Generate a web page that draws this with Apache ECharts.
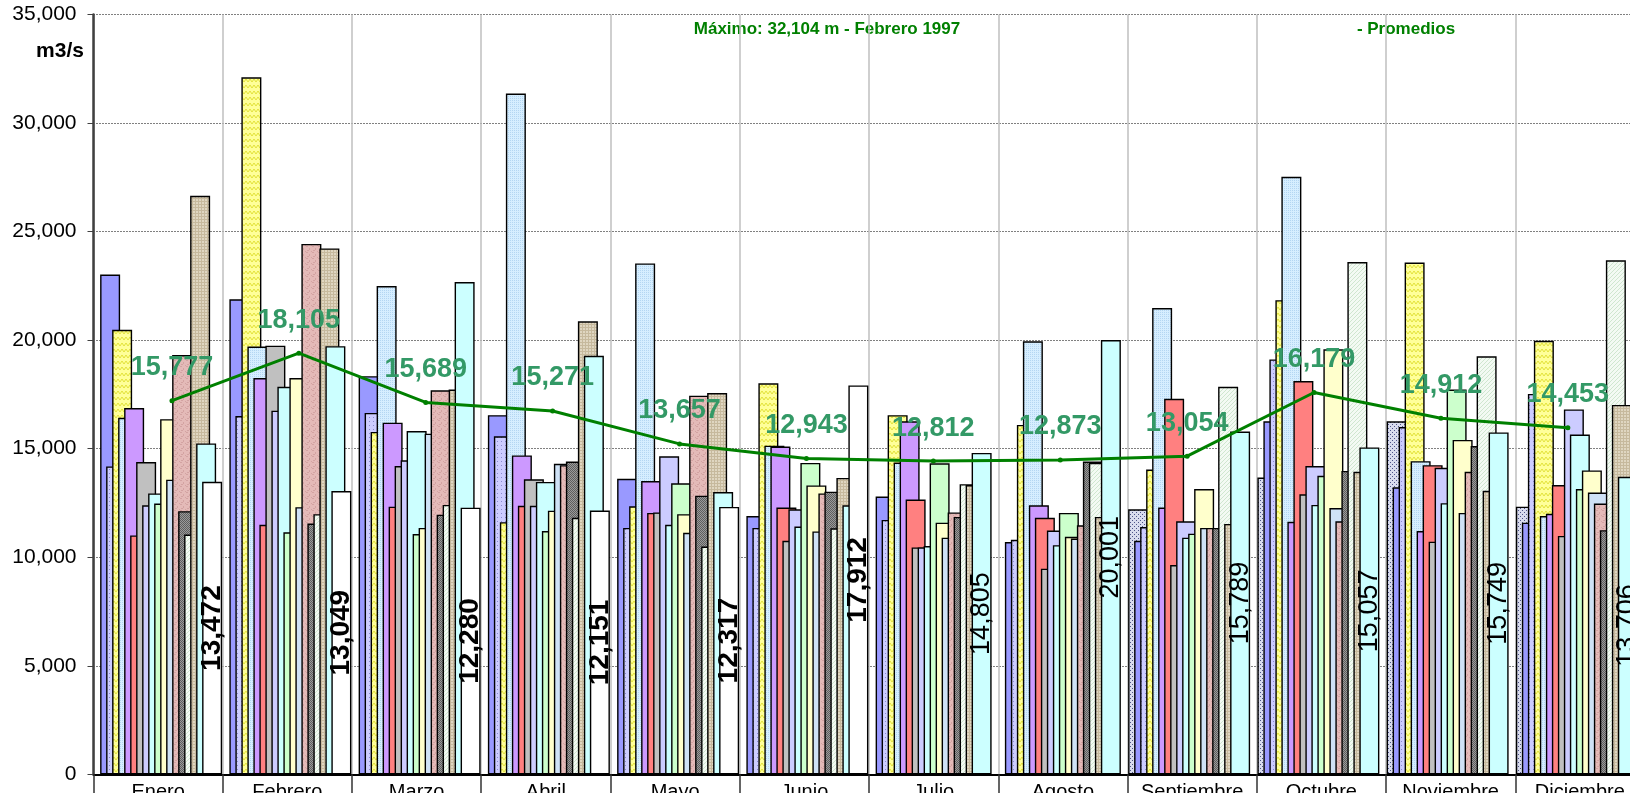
<!DOCTYPE html>
<html>
<head>
<meta charset="utf-8">
<title>Caudales mensuales</title>
<script src="https://cdn.jsdelivr.net/npm/echarts@6/dist/echarts.min.js"></script>
<style>
  html, body { margin: 0; padding: 0; background: #fff; overflow: hidden; }
  #chart { width: 1630px; height: 793px; }
</style>
</head>
<body>
<div id="chart"></div>
<script>
// months on the category axis
var months = ["Enero", "Febrero", "Marzo", "Abril", "Mayo", "Junio",
  "Julio", "Agosto", "Septiembre", "Octubre", "Noviembre", "Diciembre"];

// flows per month, one value per year (19 years, oldest first), m3/s
var ene = ["-", 23024, 14181, 20477, 16422, 16871, 11003, 14385, 12388, 12938, 12470, 16361, 13570, 19316, 12123, 11043, 26651, 15241, 13472];
var feb = ["-", 21883, 16504, 32104, 19703, 18256, 11492, 19743, 16748, 17849, 11145, 18256, 12307, 24430, 11553, 11981, 24226, 19723, 13049];
var mar = ["-", 18338, 16646, 15770, 22494, 16198, 12327, 14201, 14466, 15811, 11064, 11349, 15689, 17686, 11960, 12408, 17726, 22678, 12280];
var abr = ["-", 16545, 15567, 11614, 31361, 14690, 12368, 13590, 12368, 13468, 11206, 12144, 14303, 14242, 14405, 11818, 20864, 19275, 12151];
var may = ["-", 13611, 11349, 12347, 23533, 13509, 12042, 12062, 14650, 11492, 13407, 11981, 11125, 17441, 12836, 10493, 17563, 12999, 12317];
var jun = ["-", 11899, 11349, 18012, 15139, 15098, 12286, 10758, 12205, 11410, 14344, 13305, 11186, 12938, 13020, 11329, 13651, 12388, 17912];
var jul = ["-", 12796, 11716, 16545, 14364, 16259, 12653, 10452, 10452, 10514, 14324, 11593, 10901, 12062, 11858, 13366, 13325, 14805, "-"];
var ago = ["-", 10697, 10799, 16096, 19947, 12388, 11818, 9474, 11227, 10554, 12042, 10941, 10860, 11471, 14405, 14350, 11858, 20001, "-"];
var sep = [12205, 10758, 11390, 14038, 21475, 12286, 17298, 9637, 11654, 10901, 11084, 13142, 11349, 11349, 11349, 17849, 11532, 15789, "-"];
var oct = [13672, 16259, 19112, 21842, 27527, 11634, 18113, 12897, 14201, 12408, 13753, 19580, 12266, 11654, 13977, 23594, 13936, 15057, "-"];
var nov = [16259, 13223, 15994, 23574, 14426, 11206, 14242, 10717, 14120, 12490, 17726, 15404, 12042, 13936, 15118, 19254, 13060, 15749, "-"];
var dic = [12327, 11593, 17523, 19968, 11899, 12001, 13325, 10982, 16809, 15648, 13142, 13998, 12979, 12470, 11247, 23676, 17013, 13706, "-"];

// monthly averages (line)
var promedios = [15777, 18105, 15689, 15271, 13657, 12943, 12812, 12873, 13054, 16179, 14912, 14453];

var byMonth = [ene, feb, mar, abr, may, jun, jul, ago, sep, oct, nov, dic];
var nYears = 19;

function fmt(v) {
  return String(v).replace(/\B(?=(\d{3})+(?!\d))/g, ",");
}

// small canvas textures, like the excel fills
function pattern(w, h, bg, fg, draw) {
  var c = document.createElement("canvas");
  c.width = w; c.height = h;
  var g = c.getContext("2d");
  g.fillStyle = bg; g.fillRect(0, 0, w, h);
  g.fillStyle = fg; g.strokeStyle = fg;
  draw(g);
  return { image: c, repeat: "repeat" };
}

var fills = [
  pattern(4, 4, "#D9DCEE", "#4E5488", function (g) { g.fillRect(0, 0, 1, 1); g.fillRect(2, 2, 1, 1); }),
  "#9999FF",
  pattern(4, 4, "#CCCCFF", "#8A8AD0", function (g) { g.fillRect(1, 1, 1, 1); }),
  pattern(8, 6, "#FFFF99", "#E2E23A", function (g) {
    g.lineWidth = 1; g.beginPath(); g.moveTo(0, 4); g.lineTo(2, 1); g.lineTo(4, 4); g.lineTo(6, 1); g.lineTo(8, 4); g.stroke();
  }),
  pattern(2, 2, "#D6EEFF", "#B4D6F2", function (g) { g.fillRect(0, 0, 1, 1); }),
  "#CC99FF",
  "#FF8080",
  "#C0C0C0",
  "#CCCCFF",
  "#CCFFFF",
  "#CCFFCC",
  "#FFFFCC",
  "#CFE2F6",
  pattern(6, 6, "#E4BAB8", "#D3A3A2", function (g) { g.fillRect(0, 0, 2, 1); g.fillRect(3, 2, 1, 2); g.fillRect(1, 4, 2, 1); g.fillRect(5, 5, 1, 1); }),
  pattern(2, 2, "#9A9A9A", "#5E5E5E", function (g) { g.fillRect(0, 0, 1, 1); g.fillRect(1, 1, 1, 1); }),
  pattern(4, 4, "#F3FAF3", "#CFE6CF", function (g) { g.fillRect(0, 3, 1, 1); g.fillRect(1, 2, 1, 1); g.fillRect(2, 1, 1, 1); g.fillRect(3, 0, 1, 1); }),
  pattern(3, 3, "#DFD6C1", "#C6B99D", function (g) { g.fillRect(0, 0, 3, 1); g.fillRect(0, 0, 1, 3); }),
  "#CCFFFF",
  "#FFFFFF"
];

var series = [];
for (var s = 0; s < nYears; s++) {
  var data = [];
  for (var m = 0; m < 12; m++) {
    var v = byMonth[m][s];
    // last year labelled everywhere (bold); previous year only from Julio on
    if (s === nYears - 1 && v !== "-") {
      data.push({ value: v, label: { show: true, fontWeight: "bold", fontSize: 28 } });
    } else if (s === nYears - 2 && m >= 6) {
      data.push({ value: v, label: { show: true, fontWeight: "normal", fontSize: 27 } });
    } else {
      data.push(v);
    }
  }
  series.push({
    type: "bar",
    xAxisIndex: 0,
    yAxisIndex: 0,
    barWidth: 20,
    barGap: "-70%",
    data: data,
    itemStyle: { color: fills[s], borderColor: "#000", borderWidth: 1.4 },
    label: {
      show: false,
      position: "inside",
      rotate: 90,
      color: "#000",
      fontFamily: "Liberation Sans, Arial, sans-serif",
      formatter: function (p) { return fmt(p.value); }
    }
  });
}

series.push({
  type: "line",
  xAxisIndex: 1,
  yAxisIndex: 1,
  data: promedios,
  symbol: "circle",
  symbolSize: 5,
  lineStyle: { color: "#008000", width: 3 },
  itemStyle: { color: "#008000" },
  z: 5,
  label: {
    show: true,
    position: "top",
    distance: 17,
    color: "#339966",
    fontSize: 27,
    fontWeight: "bold",
    fontFamily: "Liberation Sans, Arial, sans-serif",
    formatter: function (p) { return fmt(p.value); }
  }
});

var chart = echarts.init(document.getElementById("chart"));
chart.setOption({
  animation: false,
  backgroundColor: "#fff",
  textStyle: { fontFamily: "Liberation Sans, Arial, sans-serif" },
  grid: [
    { left: 93.5, right: -14.5, top: 14.5, bottom: 18.7, outerBoundsMode: "none", containLabel: false },
    { left: 108.5, right: -1.3, top: 14.5, bottom: 18.7, outerBoundsMode: "none", containLabel: false }
  ],
  xAxis: [{
    type: "category",
    gridIndex: 0,
    data: months,
    axisLine: { lineStyle: { color: "#000", width: 2 } },
    axisTick: { show: true, interval: 0, length: 20, lineStyle: { color: "#333", width: 1.5 } },
    axisLabel: { interval: 0, color: "#000", fontSize: 20, margin: 8 },
    splitLine: { show: true, interval: 0, lineStyle: { color: "#BFBFBF", width: 1.5 } }
  }, {
    type: "category",
    gridIndex: 1,
    data: months,
    show: false
  }],
  yAxis: [{
    type: "value",
    gridIndex: 0,
    min: 0,
    max: 35000,
    interval: 5000,
    axisLine: { show: true, lineStyle: { color: "#404040", width: 2.5 } },
    axisTick: { show: true, length: 6, lineStyle: { color: "#404040" } },
    axisLabel: { color: "#000", fontSize: 21, margin: 17, formatter: fmt },
    splitLine: { lineStyle: { color: "#000", width: 1, type: [1, 2] } }
  }, {
    type: "value",
    gridIndex: 1,
    min: -2550,
    max: 34720,
    show: false,
    splitLine: { show: false }
  }],
  graphic: [
    { type: "text", x: 60, y: 51, style: { text: "m3/s", fill: "#000", font: "bold 21px Liberation Sans, Arial", textAlign: "center", textVerticalAlign: "middle" } },
    { type: "text", x: 827, y: 29, style: { text: "Máximo: 32,104 m - Febrero 1997", fill: "#008000", font: "bold 17px Liberation Sans, Arial", textAlign: "center", textVerticalAlign: "middle" } },
    { type: "text", x: 1406, y: 29, style: { text: "- Promedios", fill: "#008000", font: "bold 17px Liberation Sans, Arial", textAlign: "center", textVerticalAlign: "middle" } }
  ],
  series: series
});
</script>
</body>
</html>
